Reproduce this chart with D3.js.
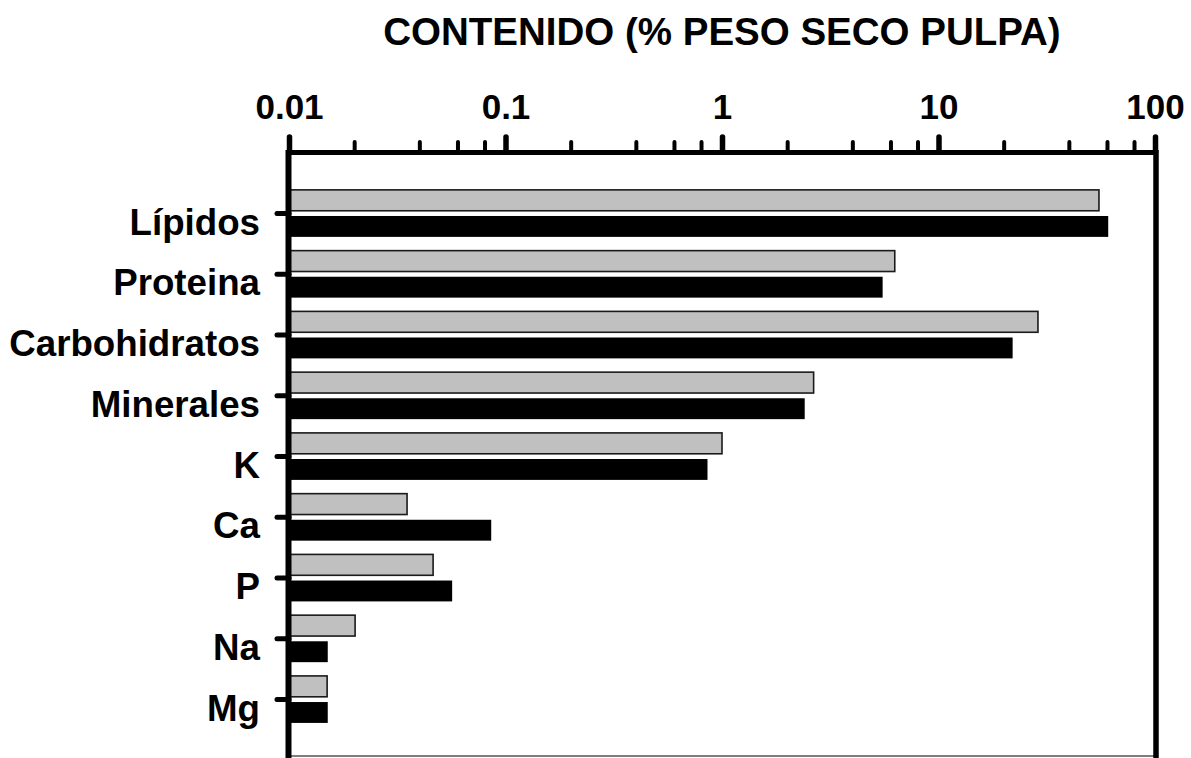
<!DOCTYPE html>
<html>
<head>
<meta charset="utf-8">
<script src="https://cdn.jsdelivr.net/npm/d3@7"></script>
<style>
  html, body { margin: 0; padding: 0; background: #fff; }
  svg { display: block; }
  text { font-family: "Liberation Sans", Arial, Helvetica, sans-serif; font-weight: bold; fill: #000; }
</style>
</head>
<body>
<svg id="chart" width="1191" height="758"></svg>
<script>
const categories = ["Lípidos", "Proteina", "Carbohidratos", "Minerales", "K", "Ca", "P", "Na", "Mg"];
const seriesNames = ["serie1", "serie2"];
const serie1 = [55.1, 6.28, 28.8, 2.65, 1.00, 0.0351, 0.0463, 0.0202, 0.0150];
const serie2 = [60.8, 5.52, 22.0, 2.41, 0.857, 0.0859, 0.0567, 0.0151, 0.0151];
const majorTicks = [0.01, 0.1, 1, 10, 100];
const majorTickLabels = ["0.01", "0.1", "1", "10", "100"];
const minorTicks = [0.02, 0.04, 0.06, 0.08, 0.2, 0.4, 0.6, 0.8, 2, 4, 6, 8, 20, 40, 60, 80];
const chartTitle = "CONTENIDO (% PESO SECO PULPA)";
const colors = ["#c0c0c0", "#000000"];

(function () {
const svg = d3.select("#chart");
const mLeft = 289, mRight = 1155, mTop = 152, mBottom = 758;

const x = d3.scaleLog().domain([0.01, 100]).range([mLeft, mRight]);
const y = d3.scaleBand().domain(categories).range([183, 729.8]).padding(0);
const ySub = d3.scaleBand().domain(seriesNames).range([-23.5, 23.5]).paddingInner(0.2);

const data = categories.map((c, i) => ({ cat: c, values: [serie1[i], serie2[i]] }));

// bars
const groups = svg.append("g").selectAll("g").data(data).join("g")
  .attr("transform", d => `translate(0,${y(d.cat) + y.bandwidth() / 2})`);
groups.selectAll("rect").data(d => d.values.map((v, k) => ({ v, k })))
  .join("rect")
  .attr("x", x(0.01))
  .attr("y", d => ySub(seriesNames[d.k]))
  .attr("width", d => x(d.v) - x(0.01))
  .attr("height", ySub.bandwidth())
  .attr("fill", d => colors[d.k])
  .attr("stroke", d => d.k === 0 ? "#1a1a1a" : "none")
  .attr("stroke-width", 1.6);

// thin bottom border
svg.append("line")
  .attr("x1", mLeft).attr("x2", mRight)
  .attr("y1", 756).attr("y2", 756)
  .attr("stroke", "#555").attr("stroke-width", 1.5);

// right axis line
svg.append("line")
  .attr("x1", x(100) + 1).attr("x2", x(100) + 1)
  .attr("y1", mTop - 2).attr("y2", mBottom)
  .attr("stroke", "#000").attr("stroke-width", 5.5);

// top axis: minor ticks
const minorAxis = d3.axisTop(x).tickValues(minorTicks).tickSize(10).tickFormat("").tickSizeOuter(0);
const gMinor = svg.append("g").attr("transform", `translate(0,${mTop})`).call(minorAxis);
gMinor.select(".domain").remove();
gMinor.selectAll(".tick line").attr("stroke", "#000").attr("stroke-width", 4).attr("stroke-linecap", "round");

// top axis: major ticks
const majorAxis = d3.axisTop(x).tickValues(majorTicks).tickSize(15).tickPadding(18)
  .tickFormat((d, i) => majorTickLabels[i]).tickSizeOuter(0);
const gMajor = svg.append("g").attr("transform", `translate(0,${mTop})`).call(majorAxis);
gMajor.attr("font-family", null).attr("font-size", null);
gMajor.select(".domain").attr("stroke", "#000").attr("stroke-width", 5);
gMajor.selectAll(".tick line").attr("stroke", "#000").attr("stroke-width", 5.5).attr("stroke-linecap", "round");
gMajor.selectAll(".tick text").style("font-size", "35px");

// left axis
const yAxis = d3.axisLeft(y).tickSize(12).tickPadding(17).tickSizeOuter(0);
const gY = svg.append("g").attr("transform", `translate(${mLeft},0)`).call(yAxis);
gY.attr("font-family", null).attr("font-size", null);
gY.select(".domain").remove();
gY.selectAll(".tick line").attr("stroke", "#000").attr("stroke-width", 5).attr("stroke-linecap", "round");
gY.selectAll(".tick text").style("font-size", "36.7px").attr("dy", "0.58em");

svg.append("line")
  .attr("x1", mLeft - 0.5).attr("x2", mLeft - 0.5)
  .attr("y1", mTop - 2).attr("y2", mBottom)
  .attr("stroke", "#000").attr("stroke-width", 6);

// title
svg.append("text")
  .attr("x", (mLeft + mRight) / 2)
  .attr("y", 45)
  .attr("text-anchor", "middle")
  .style("font-size", "38.5px")
  .text(chartTitle);
})();
</script>
</body>
</html>
